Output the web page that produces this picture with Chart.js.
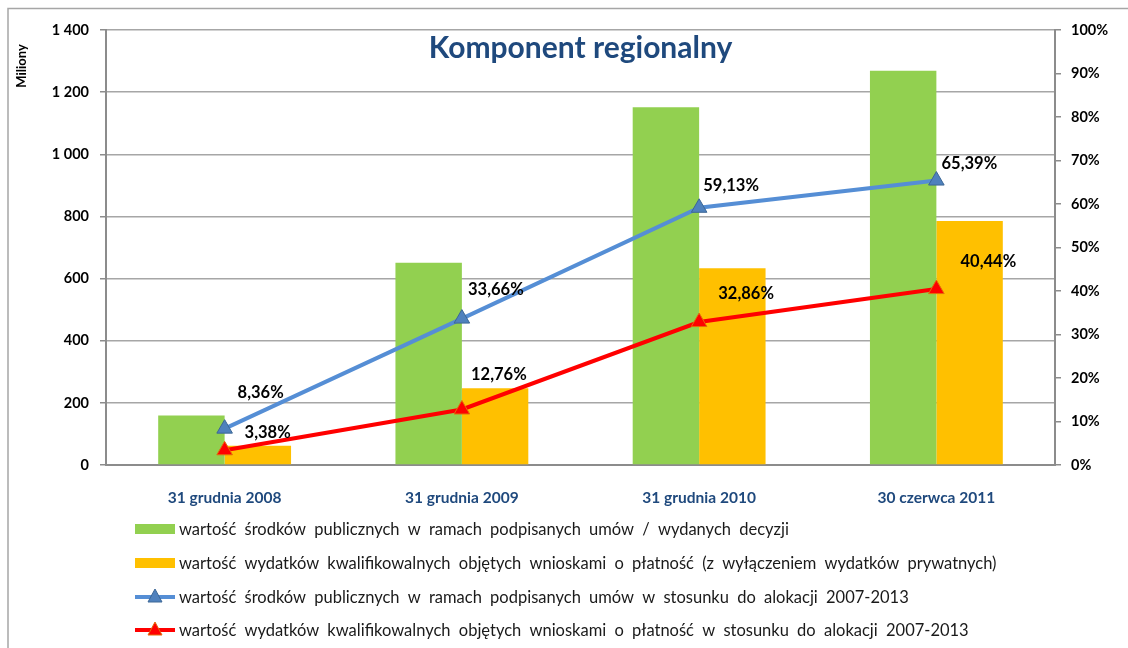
<!DOCTYPE html>
<html>
<head>
<meta charset="utf-8">
<script src="https://cdn.jsdelivr.net/npm/chart.js@4"></script>
<style>
  html, body { margin: 0; padding: 0; background: #ffffff; }
  #wrap { width: 1128px; height: 648px; position: relative; }
</style>
</head>
<body>
<div id="wrap"><canvas id="wykres" width="1128" height="648"></canvas></div>
<script>
const kategorie = ["31 grudnia 2008", "31 grudnia 2009", "31 grudnia 2010", "30 czerwca 2011"];
const srodkiPubliczne = [159, 651, 1151, 1269];
const wydatkiKwalif = [62, 247, 633, 785];
const srodkiProcent = [8.36, 33.66, 59.13, 65.39];
const wydatkiProcent = [3.38, 12.76, 32.86, 40.44];

const nazwySerii = [
    "wartość środków publicznych w ramach podpisanych umów / wydanych decyzji",
    "wartość wydatków kwalifikowalnych objętych wnioskami o płatność (z wyłączeniem wydatków prywatnych)",
    "wartość środków publicznych w ramach podpisanych umów w stosunku do alokacji 2007-2013",
    "wartość wydatków kwalifikowalnych objętych wnioskami o płatność w stosunku do alokacji 2007-2013"
];

const kolory = {
    zielony: "#92D050",
    pomaranczowy: "#FFC000",
    niebieski: "#558ED5",
    niebieskiZnak: "#4F81BD",
    czerwony: "#FF0000",
    czerwonyObrys: "#E46C0A",
    siatka: "#A6A6A6",
    os: "#8C8C8C",
    tytul: "#1F497D"
};

// przesuniecia etykiet procentowych wzgledem punktu (dx, dy)
const przesunieciaNieb = [[36, -36], [34, -29], [32, -22], [33, -17]];
const przesunieciaCzer = [[43, -18], [37, -35], [47, -28], [52, -27]];

function formatTys(v) {
    return String(v).replace(/\B(?=(\d{3})+(?!\d))/g, " ");
}

const dodatki = {
    id: "dodatki",
    afterDraw(chart) {
        const ctx = chart.ctx;
        const area = chart.chartArea;
        ctx.save();

        // ramka wykresu
        ctx.strokeStyle = "#A6A6A6";
        ctx.lineWidth = 1.5;
        ctx.beginPath();
        ctx.moveTo(8, 660);
        ctx.lineTo(8, 8.5);
        ctx.lineTo(1140, 8.5);
        ctx.stroke();

        // tytul
        ctx.fillStyle = kolory.tytul;
        ctx.font = "bold 30px Lato";
        ctx.textAlign = "center";
        ctx.textBaseline = "middle";
        ctx.fillText("Komponent regionalny", (area.left + area.right) / 2, 48);

        // opis osi
        ctx.save();
        ctx.translate(22, 66);
        ctx.rotate(-Math.PI / 2);
        ctx.fillStyle = "#000000";
        ctx.font = "bold 13px Lato";
        ctx.fillText("Miliony", 0, 0);
        ctx.restore();

        // etykiety procentowe
        ctx.fillStyle = "#000000";
        ctx.font = "bold 16.5px Lato";
        const etykiety = [[2, srodkiProcent, przesunieciaNieb], [3, wydatkiProcent, przesunieciaCzer]];
        etykiety.forEach(([idx, wartosci, przes]) => {
            chart.getDatasetMeta(idx).data.forEach((pkt, i) => {
                const txt = wartosci[i].toFixed(2).replace(".", ",") + "%";
                ctx.fillText(txt, pkt.x + przes[i][0], pkt.y + przes[i][1]);
            });
        });

        // legenda
        const wiersze = [529, 563, 597, 630];
        ctx.textAlign = "left";
        ctx.font = "16.5px Lato";
        ctx.wordSpacing = "4px";
        nazwySerii.forEach((nazwa, i) => {
            const y = wiersze[i];
            const x0 = 135, x1 = 175;
            if (i < 2) {
                ctx.fillStyle = i === 0 ? kolory.zielony : kolory.pomaranczowy;
                ctx.fillRect(x0, y - 5, x1 - x0, 10);
            } else {
                ctx.strokeStyle = i === 2 ? kolory.niebieski : kolory.czerwony;
                ctx.lineWidth = 4;
                ctx.beginPath();
                ctx.moveTo(x0, y);
                ctx.lineTo(x1, y);
                ctx.stroke();
                const cx = (x0 + x1) / 2;
                ctx.beginPath();
                ctx.moveTo(cx, y - 8);
                ctx.lineTo(cx + 7, y + 5);
                ctx.lineTo(cx - 7, y + 5);
                ctx.closePath();
                ctx.fillStyle = i === 2 ? kolory.niebieskiZnak : kolory.czerwony;
                ctx.fill();
                ctx.lineWidth = 1;
                ctx.strokeStyle = i === 2 ? "#3C6796" : kolory.czerwonyObrys;
                ctx.stroke();
            }
            ctx.fillStyle = "#1A1A1A";
            ctx.fillText(nazwa, 179, y + 1);
        });

        ctx.restore();
    }
};

new Chart(document.getElementById("wykres"), {
    type: "bar",
    data: {
        labels: kategorie,
        datasets: [
            {
                label: nazwySerii[0],
                data: srodkiPubliczne,
                backgroundColor: kolory.zielony,
                yAxisID: "y",
                order: 2,
                categoryPercentage: 0.56,
                barPercentage: 1
            },
            {
                label: nazwySerii[1],
                data: wydatkiKwalif,
                backgroundColor: kolory.pomaranczowy,
                yAxisID: "y",
                order: 2,
                categoryPercentage: 0.56,
                barPercentage: 1
            },
            {
                type: "line",
                label: nazwySerii[2],
                data: srodkiProcent,
                borderColor: kolory.niebieski,
                borderWidth: 4,
                pointStyle: "triangle",
                pointRadius: 9,
                pointBackgroundColor: kolory.niebieskiZnak,
                pointBorderColor: "#3C6796",
                pointBorderWidth: 1,
                yAxisID: "y1",
                order: 1
            },
            {
                type: "line",
                label: nazwySerii[3],
                data: wydatkiProcent,
                borderColor: kolory.czerwony,
                borderWidth: 4,
                pointStyle: "triangle",
                pointRadius: 9,
                pointBackgroundColor: kolory.czerwony,
                pointBorderColor: kolory.czerwonyObrys,
                pointBorderWidth: 1,
                yAxisID: "y1",
                order: 0
            }
        ]
    },
    options: {
        responsive: false,
        animation: false,
        layout: {
            padding: { top: 30, bottom: 123, left: 0, right: 0 }
        },
        scales: {
            x: {
                grid: { display: false },
                border: { display: true, color: kolory.os, width: 2 },
                ticks: {
                    color: kolory.tytul,
                    font: { family: "Lato", size: 15.5, weight: "bold" },
                    padding: 16,
                    maxRotation: 0
                },
                afterFit(scale) { scale.height = 60; }
            },
            y: {
                position: "left",
                min: 0,
                max: 1400,
                ticks: {
                    stepSize: 200,
                    color: "#000000",
                    font: { family: "Lato", size: 14.5, weight: "bold" },
                    padding: 11,
                    callback: v => formatTys(v)
                },
                grid: { color: kolory.siatka, lineWidth: 1.5, tickLength: 6, tickColor: kolory.os },
                border: { display: true, color: kolory.os, width: 2 },
                afterFit(scale) { scale.width = 106; }
            },
            y1: {
                position: "right",
                min: 0,
                max: 100,
                ticks: {
                    stepSize: 10,
                    color: "#000000",
                    font: { family: "Lato", size: 14.5, weight: "bold" },
                    padding: 10,
                    callback: v => v + "%"
                },
                grid: { drawOnChartArea: false, tickLength: 6, color: kolory.os, lineWidth: 1.5 },
                border: { display: true, color: kolory.os, width: 2 },
                afterFit(scale) { scale.width = 73; }
            }
        },
        plugins: {
            legend: { display: false },
            tooltip: { enabled: false }
        }
    },
    plugins: [dodatki]
});
</script>
</body>
</html>
